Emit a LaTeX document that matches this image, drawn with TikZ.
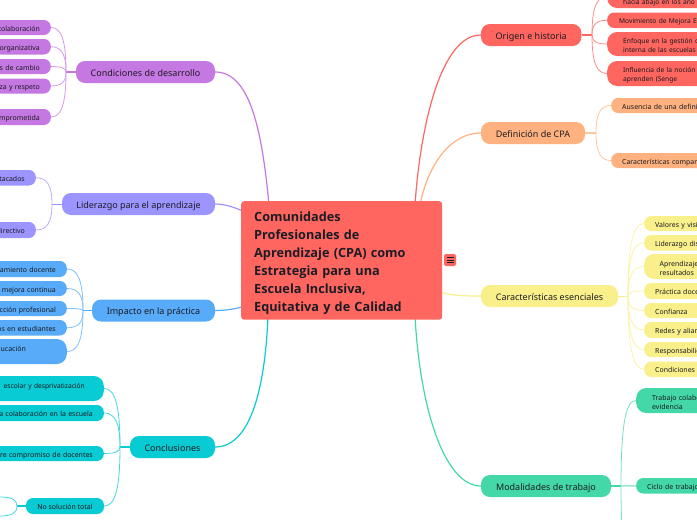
\documentclass[tikz,border=0pt]{standalone}
\usepackage{fontspec}
\setmainfont{Noto Sans}
\newfontfamily\titlefont{Open Sans}
\newcommand{\narrowleaf}{\fontsize{6.65}{9}\selectfont}
\usetikzlibrary{calc}
\definecolor{cpur}{HTML}{C678E2}
\definecolor{cvio}{HTML}{9C94FF}
\definecolor{cblu}{HTML}{57ABF8}
\definecolor{ccya}{HTML}{09CBD3}
\definecolor{cred}{HTML}{FF6660}
\definecolor{cora}{HTML}{FFB27F}
\definecolor{cyel}{HTML}{F9EF8B}
\definecolor{cgre}{HTML}{44D8A8}
\definecolor{ctxt}{HTML}{1C1C24}
\tikzset{
  centralbox/.style={draw=none,fill=cred,rounded corners=3pt,anchor=north west,minimum width=201pt,minimum height=118.5pt,text width=175pt,inner xsep=13pt,inner ysep=0pt,align=left,font=\titlefont\fontsize{12.7}{18}\selectfont\bfseries,text=ctxt,execute at begin node={\rule{0pt}{16pt}}},
  branchbox/.style={rounded corners=9pt,minimum height=22pt,inner xsep=0pt,inner ysep=0pt,font=\fontsize{9}{11}\selectfont,text=ctxt,execute at begin node={\rule[-2pt]{0pt}{13pt}}},
  leafbase/.style={rounded corners=7pt,text width=130pt,inner ysep=0pt,font=\fontsize{6.95}{9}\selectfont,text=ctxt!85!black,execute at begin node={\rule[-2pt]{0pt}{11pt}}},
  leafleft/.style={leafbase,anchor=east,align=right,inner xsep=#1},
  leafright/.style={leafbase,anchor=west,align=left,inner xsep=#1},
  leaflefttall/.style={leafleft=#1,rounded corners=10pt},
  leafrighttall/.style={leafright=#1,rounded corners=10pt},
  mainline/.style={line width=1.2pt,line cap=round},
  stubline/.style={line width=1.5pt},
  twigline/.style={line width=.8pt},
}
% \leafnode{style}{name}{x}{top}{bottom}{colour}{sep}{text}
\newcommand{\leafnode}[8]{\node[#1=#7,fill=#6,minimum height=#5pt-#4pt] (#2) at (#3,{(#4+#5)/2}) {#8};}
% \twigs{colour}{junction}{leaf anchors}
\newcommand{\twigs}[3]{\foreach \n in {#3}{\draw[twigline,#1!75] (#2) .. controls ($(#2)!0.75!(#2|-\n)$) and ($(\n)!0.65!(#2|-\n)$) .. (\n);}}
\begin{document}
\begin{tikzpicture}[x=1pt,y=-1pt]
\useasboundingbox (0,0) rectangle (697,520);
\clip (0,0) rectangle (697,520);

% branches
\node[branchbox,fill=cpur,minimum width=139pt] (b1) at (145.5,72) {Condiciones de desarrollo};
\node[branchbox,fill=cvio,minimum width=153pt] (b2) at (138.5,204) {Liderazgo para el aprendizaje};
\node[branchbox,fill=cblu,minimum width=123pt] (b3) at (153.5,310.5) {Impacto en la práctica};
\node[branchbox,fill=ccya,minimum width=85pt] (b4) at (172.5,447) {Conclusiones};
\node[branchbox,fill=cred,minimum width=100.5pt] (b5) at (531.2,35) {Origen e historia};
\node[branchbox,fill=cora,minimum width=104pt] (b6) at (533,133) {Definición de CPA};
\node[branchbox,fill=cyel,minimum width=137pt] (b7) at (549.5,296) {Características esenciales};
\node[branchbox,fill=cgre,minimum width=130pt] (b8) at (546,486) {Modalidades de trabajo};

% leaves, left side
\leafnode{leafleft}{a1}{51}{20}{35}{cpur}{11pt}{colaboración}
\leafnode{leafleft}{a2}{51}{39}{54.5}{cpur}{11pt}{organizativa}
\leafnode{leafleft}{a3}{51}{59}{74}{cpur}{11pt}{s de cambio}
\leafnode{leafleft}{a4}{51}{78.5}{93.5}{cpur}{11pt}{za y respeto}
\leafnode{leafleft}{a5}{51}{109}{125}{cpur}{11pt}{mprometida}
\leafnode{leafleft}{d1}{36}{170}{185.5}{cvio}{11pt}{tacados}
\leafnode{leafleft}{d2}{36}{222}{238}{cvio}{11pt}{lirectivo}
\leafnode{leafleft}{e1}{67}{261}{277}{cblu}{11pt}{amiento docente}
\leafnode{leafleft}{e2}{67}{281}{296}{cblu}{11pt}{mejora continua}
\leafnode{leafleft}{e3}{67}{301}{316}{cblu}{11pt}{cción profesional}
\leafnode{leafleft}{e4}{67}{320}{335.5}{cblu}{11pt}{os en estudiantes}
\leafnode{leaflefttall}{e5}{67}{339}{364}{cblu}{41pt}{ucación\\~}
\leafnode{leaflefttall}{f1}{104}{376}{401}{ccya}{19pt}{\narrowleaf escolar y desprivatización\\~}
\leafnode{leafleft}{f2}{104}{405}{421}{ccya}{11pt}{la colaboración en la escuela}
\leafnode{leafleft}{f3}{104}{446}{461}{ccya}{11pt}{ere compromiso de docentes}
\node[fill=ccya,rounded corners=7pt,minimum width=78pt,minimum height=16pt,inner sep=0pt,font=\fontsize{6.95}{9}\selectfont,text=ctxt!85!black,execute at begin node={\rule[-2pt]{0pt}{10pt}}] (f4) at (65,506) {No solución total};

% leaves, right side
\leafnode{leafrighttall}{g1}{607}{-15}{8}{cred}{16pt}{~\\\narrowleaf hacia abajo en los año}
\leafnode{leafright}{g2}{607}{12.5}{28}{cred}{12pt}{\narrowleaf Movimiento de Mejora E}
\leafnode{leafrighttall}{g3}{607}{32}{56}{cred}{16pt}{\narrowleaf Enfoque en la gestión c\\interna de las escuelas}
\leafnode{leafrighttall}{g4}{607}{61}{86}{cred}{16pt}{\narrowleaf Influencia de la noción\\aprenden (Senge}
\leafnode{leafright}{h1}{611}{98}{113}{cora}{11pt}{Ausencia de una defini}
\leafnode{leafright}{h2}{611}{153}{168}{cora}{11pt}{Características compar}
\leafnode{leafright}{k1}{644}{216}{231}{cyel}{11pt}{Valores y visi}
\leafnode{leafright}{k2}{644}{235}{250.5}{cyel}{11pt}{Liderazgo dis}
\leafnode{leafrighttall}{k3}{644}{254}{279}{cyel}{15.5pt}{Aprendizaje\\resultados}
\leafnode{leafright}{k4}{644}{283}{299}{cyel}{11pt}{Práctica doce}
\leafnode{leafright}{k5}{644}{303}{318}{cyel}{11pt}{Confianza}
\leafnode{leafright}{k6}{644}{322}{338}{cyel}{11pt}{Redes y alian}
\leafnode{leafright}{k7}{644}{342}{357}{cyel}{11pt}{Responsabilid}
\leafnode{leafright}{k8}{644}{361.5}{377}{cyel}{11pt}{Condiciones}
\leafnode{leafrighttall}{m1}{636}{388}{413}{cgre}{16pt}{Trabajo colabo\\evidencia}
\leafnode{leafright}{m2}{636}{478}{493.5}{cgre}{11pt}{Ciclo de trabajo}

% junctions and free ends
\coordinate (ja) at (66,72);
\coordinate (jd) at (52,204);
\coordinate (je) at (83,310.5);
\coordinate (jf) at (120,447);
\coordinate (jf4) at (17,506);
\coordinate (f5) at (0,497);
\coordinate (f6) at (0,516);
\coordinate (jg) at (592,35);
\coordinate (jh) at (596,133);
\coordinate (jk) at (628,296);
\coordinate (jm) at (621,486);
\coordinate (m3) at (636,570);

% connectors inside branches
\draw[stubline,cpur] (b1.west) -- (ja);
\twigs{cpur}{ja}{a1.east,a2.east,a3.east,a4.east,a5.east}
\draw[twigline,cvio] (b2.west) -- (jd);
\twigs{cvio}{jd}{d1.east,d2.east}
\draw[stubline,cblu] (b3.west) -- (je);
\twigs{cblu}{je}{e1.east,e2.east,e3.east,e4.east,e5.east}
\draw[stubline,ccya] (b4.west) -- (jf);
\twigs{ccya}{jf}{f1.east,f2.east,f3.east,f4.east}
\draw[stubline,ccya] (f4.west) -- (jf4);
\twigs{ccya}{jf4}{f5,f6}
\draw[stubline,cred] (b5.east) -- (jg);
\twigs{cred}{jg}{g1.west,g2.west,g3.west,g4.west}
\draw[stubline,cora!75] (b6.east) -- (jh);
\twigs{cora}{jh}{h1.west,h2.west}
\draw[twigline,cyel] (b7.east) -- (jk);
\twigs{cyel}{jk}{k1.west,k2.west,k3.west,k4.west,k5.west,k6.west,k7.west,k8.west}
\draw[stubline,cgre] (b8.east) -- (jm);
\draw[stubline,cgre!55] (jm) -- (m2.west);
\twigs{cgre}{jm}{m1.west,m3}

% central node anchors
\coordinate (c1) at (269,205);
\coordinate (c2) at (245,212);
\coordinate (c3) at (245,306);
\coordinate (c4) at (268,316);
\coordinate (c5) at (415,205);
\coordinate (c6) at (420,205);
\coordinate (c7) at (438,291);
\coordinate (c8) at (415,316);

% connectors to the central node
\draw[mainline,cpur] (b1.east) .. controls (250,72) and (262,130) .. (c1);
\draw[mainline,cvio] (b2.east) .. controls (226,204) and (236,208) .. (c2);
\draw[mainline,cblu] (b3.east) .. controls (226,310.5) and (236,309) .. (c3);
\draw[mainline,ccya] (b4.east) .. controls (250,447) and (265,390) .. (c4);
\draw[mainline,cred] (b5.west) .. controls (440,35) and (420,130) .. (c5);
\draw[mainline,cora] (b6.west) .. controls (450,133) and (428,165) .. (c6);
\draw[mainline,cyel] (b7.west) .. controls (465,296) and (450,296) .. (c7);
\draw[mainline,cgre] (b8.west) .. controls (445,486) and (420,410) .. (c8);

% central node and its note icon
\node[centralbox] (c) at (241,201) {Comunidades\\Profesionales de\\Aprendizaje (CPA) como\\Estrategia para una\\Escuela Inclusiva,\\Equitativa y de Calidad};
\node[fill=cred,rounded corners=2pt,minimum size=12pt,inner sep=0pt] (icon) at (450,260) {};
\draw[ctxt,line width=.6pt] ($(icon.center)+(-3.5,-2.5)$) -- ($(icon.center)+(3.5,-2.5)$)
  ($(icon.center)+(-3.5,0)$) -- ($(icon.center)+(3.5,0)$)
  ($(icon.center)+(-3.5,2.5)$) -- ($(icon.center)+(3.5,2.5)$);
\end{tikzpicture}
\end{document}
